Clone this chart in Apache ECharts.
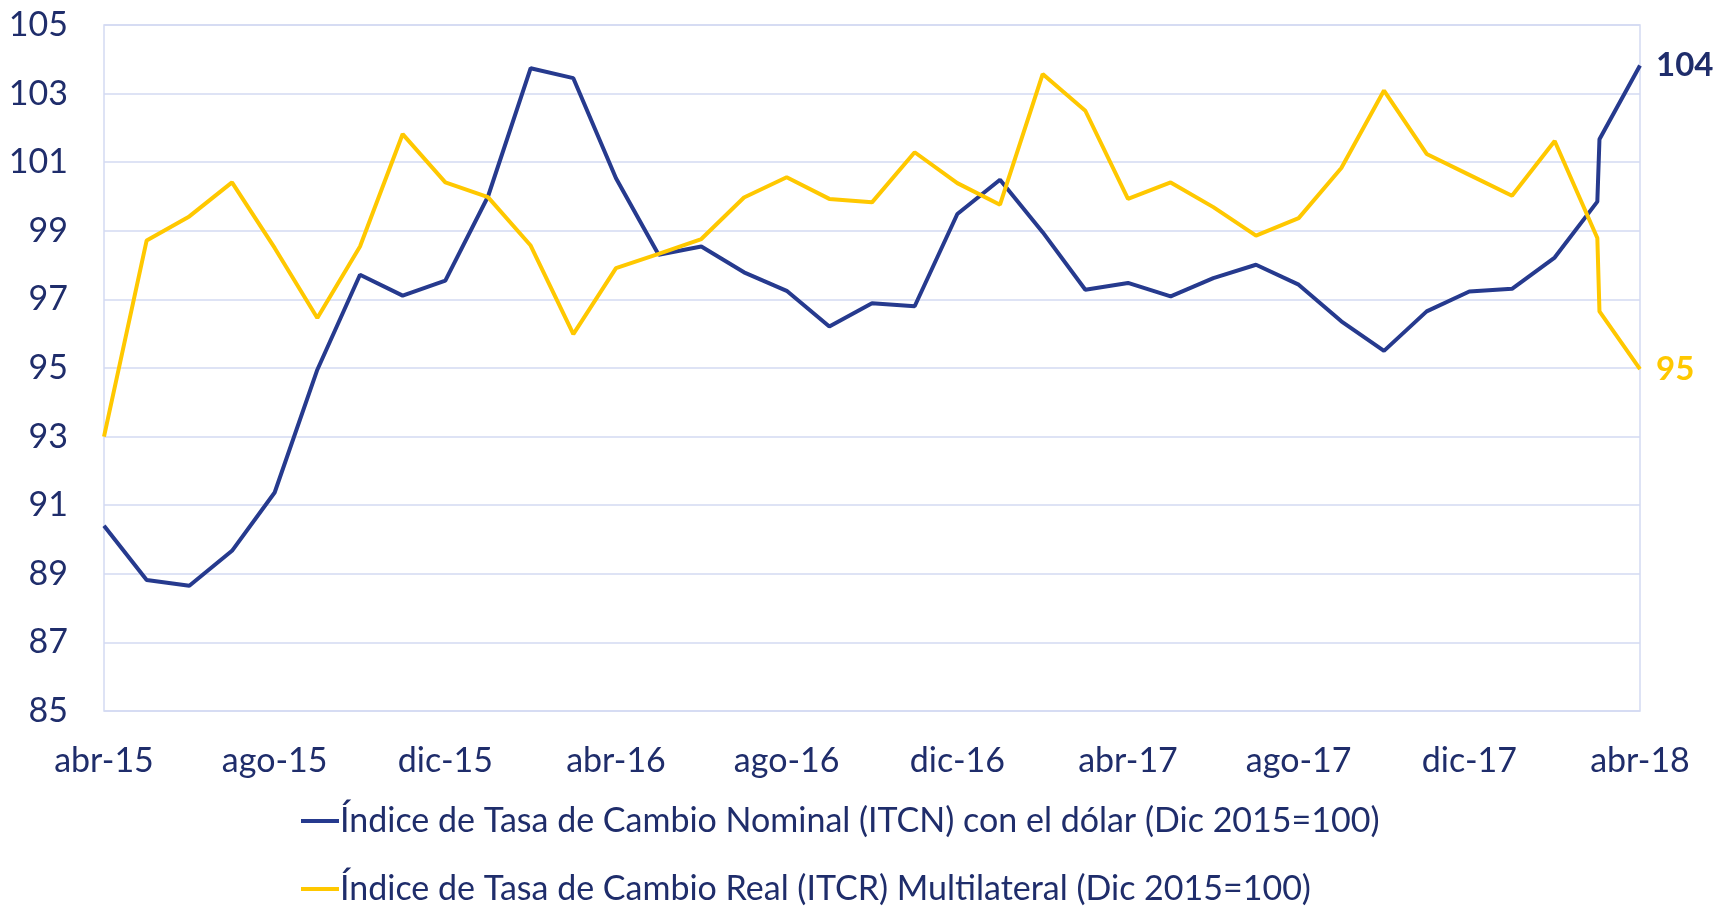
<!DOCTYPE html>
<html>
<head>
<meta charset="utf-8">
<title>ITCN e ITCR</title>
<script src="https://cdn.jsdelivr.net/npm/echarts@6/dist/echarts.min.js"></script>
<style>
  html, body { margin: 0; padding: 0; background: #fff; }
  #chart { width: 1719px; height: 909px; }
</style>
</head>
<body>
<div id="chart"></div>
<script>
// months counted from abr-15 (0) to abr-18 (36); 35.05 is the extra reading just after mar-18
const months = [0, 1, 2, 3, 4, 5, 6, 7, 8, 9, 10, 11, 12, 13, 14, 15, 16, 17, 18, 19, 20,
  21, 22, 23, 24, 25, 26, 27, 28, 29, 30, 31, 32, 33, 34, 35, 35.05, 36];
const tickLabels = ["abr-15", "ago-15", "dic-15", "abr-16", "ago-16", "dic-16",
  "abr-17", "ago-17", "dic-17", "abr-18"];
const itcn = [90.4, 88.82, 88.65, 89.67, 91.37, 94.95, 97.72, 97.11, 97.55, 100.0,
  103.74, 103.45, 100.53, 98.3, 98.54, 97.79, 97.25, 96.21, 96.89, 96.8,
  99.49, 100.49, 98.96, 97.28, 97.48, 97.09, 97.62, 98.01, 97.43, 96.36,
  95.5, 96.65, 97.23, 97.31, 98.22, 99.85, 101.67, 103.82];
const itcr = [93.0, 98.72, 99.42, 100.41, 98.5, 96.46, 98.54, 101.82, 100.41, 99.98,
  98.57, 95.99, 97.91, 98.33, 98.76, 99.97, 100.56, 99.93, 99.83, 101.29,
  100.39, 99.76, 103.57, 102.5, 99.93, 100.41, 99.69, 98.86, 99.37, 100.83,
  103.09, 101.24, 100.63, 100.02, 101.62, 98.79, 96.65, 94.97];
const seriesNames = [
  "Índice de Tasa de Cambio Nominal (ITCN) con el dólar (Dic 2015=100)",
  "Índice de Tasa de Cambio Real (ITCR) Multilateral (Dic 2015=100)"
];

const navy = "#263A8E";
const gold = "#FFC800";
const textColor = "#1F2D6B";
const gridColor = "#D3DAF2";
const font = "Lato";

function pairs(values) {
  return values.map((v, i) => [months[i], v]);
}

function legendItem(name, top) {
  return {
    left: 296,
    top: top,
    itemWidth: 38,
    itemHeight: 4,
    icon: "rect",
    textStyle: { color: textColor, fontSize: 34, fontFamily: font, padding: [0, 0, 0, -4] },
    data: [name]
  };
}

let myChart = echarts.init(document.getElementById("chart"));
let option = {
  animation: false,
  textStyle: { fontFamily: font },
  grid: {
    left: 104,
    right: 79,
    top: 25,
    bottom: 198,
    show: true,
    borderColor: gridColor,
    borderWidth: 1.5
  },
  legend: [legendItem(seriesNames[0], 799), legendItem(seriesNames[1], 867)],
  xAxis: {
    type: "value",
    min: 0,
    max: 36,
    interval: 4,
    axisLine: { show: false },
    axisTick: { show: false },
    splitLine: { show: false },
    axisLabel: {
      color: textColor,
      fontSize: 34,
      margin: 33,
      formatter: v => tickLabels[v / 4]
    }
  },
  yAxis: {
    type: "value",
    min: 85,
    max: 105,
    interval: 2,
    axisLine: { show: false },
    axisTick: { show: false },
    splitLine: { lineStyle: { color: gridColor, width: 1.5 } },
    axisLabel: { color: textColor, fontSize: 34, margin: 36 }
  },
  series: [
    {
      name: seriesNames[0],
      type: "line",
      data: pairs(itcn),
      showSymbol: false,
      color: navy,
      lineStyle: { width: 4, color: navy },
      endLabel: {
        show: true,
        distance: 16,
        color: textColor,
        fontWeight: "bold",
        fontSize: 33,
        formatter: p => Math.round(p.value[1])
      }
    },
    {
      name: seriesNames[1],
      type: "line",
      data: pairs(itcr),
      showSymbol: false,
      color: gold,
      lineStyle: { width: 4, color: gold },
      endLabel: {
        show: true,
        distance: 16,
        color: gold,
        fontWeight: "bold",
        fontSize: 33,
        formatter: p => Math.round(p.value[1])
      }
    }
  ]
};
myChart.setOption(option);
</script>
</body>
</html>
